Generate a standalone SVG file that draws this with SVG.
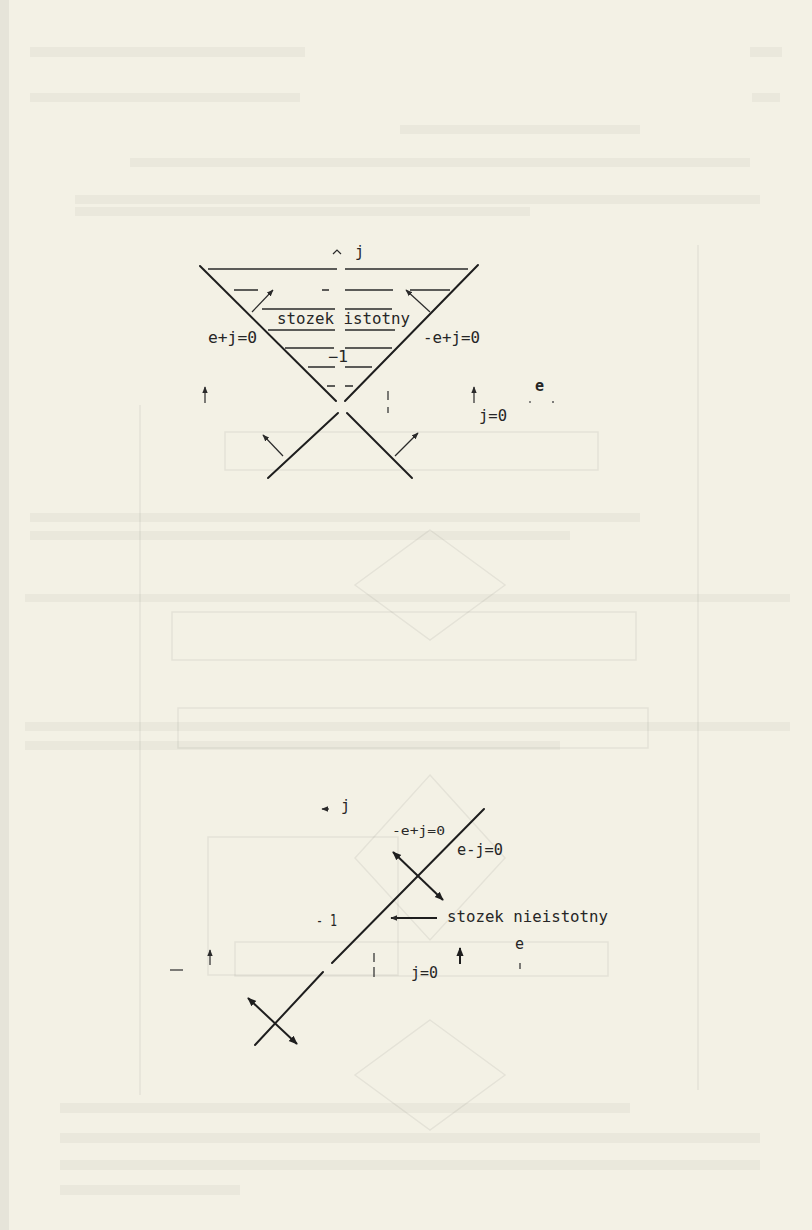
<svg xmlns="http://www.w3.org/2000/svg" width="812" height="1230" viewBox="0 0 812 1230">
<defs>
<style>
.bg{fill:#f3f1e5}
.ghost{fill:#000;opacity:0.035}
.gline{fill:none;stroke:#000;stroke-opacity:0.06;stroke-width:1.5}
.axis{fill:none;stroke:#1e1e1e;stroke-width:2;stroke-linecap:round}
.hatch{fill:none;stroke:#2a2a2a;stroke-width:1.3}
.thin{fill:none;stroke:#2a2a2a;stroke-width:1.2}
.bold{fill:none;stroke:#1e1e1e;stroke-width:2}
.t{font-family:"DejaVu Sans Mono","Liberation Mono",monospace;font-size:15px;fill:#262626}
.ts{font-family:"DejaVu Sans Mono","Liberation Mono",monospace;font-size:12px;fill:#2a2a2a}
</style>
<marker id="ah" viewBox="0 0 10 10" refX="9" refY="5" markerWidth="7" markerHeight="7" orient="auto-start-reverse" markerUnits="userSpaceOnUse">
<path d="M0,1 L10,5 L0,9 Z" fill="#2a2a2a"/>
</marker>
<marker id="ahb" viewBox="0 0 10 10" refX="9" refY="5" markerWidth="9" markerHeight="9" orient="auto-start-reverse" markerUnits="userSpaceOnUse">
<path d="M0,1 L10,5 L0,9 Z" fill="#1e1e1e"/>
</marker>
</defs>
<rect class="bg" x="0" y="0" width="812" height="1230"/>
<rect x="0" y="0" width="9" height="1230" fill="#000" opacity="0.05"/>

<g id="bleed-through">
<rect class="ghost" x="30" y="47" width="275" height="10"/>
<rect class="ghost" x="750" y="47" width="32" height="10"/>
<rect class="ghost" x="30" y="93" width="270" height="9"/>
<rect class="ghost" x="752" y="93" width="28" height="9"/>
<rect class="ghost" x="400" y="125" width="240" height="9"/>
<rect class="ghost" x="130" y="158" width="620" height="9"/>
<rect class="ghost" x="75" y="195" width="685" height="9"/>
<rect class="ghost" x="75" y="207" width="455" height="9"/>
<rect class="ghost" x="30" y="513" width="610" height="9"/>
<rect class="ghost" x="30" y="531" width="540" height="9"/>
<rect class="ghost" x="25" y="594" width="765" height="8"/>
<rect class="ghost" x="25" y="722" width="765" height="9"/>
<rect class="ghost" x="25" y="741" width="535" height="9"/>
<rect class="ghost" x="60" y="1103" width="570" height="10"/>
<rect class="ghost" x="60" y="1133" width="700" height="10"/>
<rect class="ghost" x="60" y="1160" width="700" height="10"/>
<rect class="ghost" x="60" y="1185" width="180" height="10"/>
<path class="gline" d="M140,405 V1095 M698,245 V1090"/>
<rect class="gline" x="225" y="432" width="373" height="38"/>
<path class="gline" d="M430,530 L505,585 L430,640 L355,585 Z"/>
<rect class="gline" x="172" y="612" width="464" height="48"/>
<rect class="gline" x="178" y="708" width="470" height="40"/>
<path class="gline" d="M430,775 L505,858 L430,940 L355,858 Z"/>
<rect class="gline" x="208" y="837" width="190" height="138"/>
<rect class="gline" x="235" y="942" width="373" height="34"/>
<path class="gline" d="M430,1020 L505,1075 L430,1130 L355,1075 Z"/>
</g>

<g id="fig1-cone">
<path class="axis" d="M200,266 L336,401"/>
<path class="axis" d="M478,265 L345,401"/>
<path class="axis" d="M338,413 L268,478"/>
<path class="axis" d="M347,413 L412,478"/>
</g>

<g id="fig1-hatching">
<path class="hatch" d="M208,269 H337 M345,269 H468"/>
<path class="hatch" d="M234,290 H258 M322,290 H329 M345,290 H393 M410,290 H450"/>
<path class="hatch" d="M262,309 H335 M345,309 H392"/>
<path class="hatch" d="M268,330 H335 M345,330 H395"/>
<path class="hatch" d="M285,348 H334 M345,348 H392"/>
<path class="hatch" d="M308,367 H335 M345,367 H372"/>
<path class="hatch" d="M327,386 H335 M345,386 H353"/>
</g>

<g id="fig1-labels">
<text class="t" x="277" y="324" textLength="133" lengthAdjust="spacingAndGlyphs">stozek istotny</text>
<text class="t" x="208" y="343" textLength="49" lengthAdjust="spacingAndGlyphs">e+j=0</text>
<text class="t" x="423" y="343" textLength="57" lengthAdjust="spacingAndGlyphs">-e+j=0</text>
<text class="t" x="328" y="362" textLength="20" lengthAdjust="spacingAndGlyphs">−1</text>
<path class="thin" d="M333,254 L337,250 L341,254"/>
<text class="t" x="355" y="257">j</text>
<text class="t" x="479" y="421" textLength="28" lengthAdjust="spacingAndGlyphs">j=0</text>
<text class="t" x="535" y="391" font-weight="bold">e</text>
<circle cx="530" cy="402" r="0.9" fill="#555"/>
<circle cx="553" cy="402" r="1" fill="#555"/>
<path class="thin" d="M388,391 V400 M388,407 V413"/>
</g>

<g id="fig1-arrows">
<path class="thin" d="M205,403 V387" marker-end="url(#ah)"/>
<path class="thin" d="M474,403 V387" marker-end="url(#ah)"/>
<path class="thin" d="M252,312 L273,290" marker-end="url(#ah)"/>
<path class="thin" d="M430,312 L406,290" marker-end="url(#ah)"/>
<path class="thin" d="M283,456 L263,435" marker-end="url(#ah)"/>
<path class="thin" d="M395,456 L418,433" marker-end="url(#ah)"/>
</g>

<g id="fig2-line">
<path class="axis" d="M484,809 L332,963 M323,972 L255,1045"/>
</g>

<g id="fig2-arrows">
<path class="bold" d="M393,852 L443,900" marker-start="url(#ahb)" marker-end="url(#ahb)"/>
<path class="bold" d="M248,998 L297,1044" marker-start="url(#ahb)" marker-end="url(#ahb)"/>
<path class="bold" d="M437,918 H391" marker-end="url(#ah)"/>
<path class="thin" d="M210,965 V950" marker-end="url(#ah)"/>
<path class="bold" d="M460,964 V948" marker-end="url(#ahb)"/>
<path class="thin" d="M329,809 H322" marker-end="url(#ah)"/>
</g>

<g id="fig2-labels">
<text class="ts" x="392" y="835" textLength="53" lengthAdjust="spacingAndGlyphs">-e+j=0</text>
<text class="t" x="457" y="855" textLength="46" lengthAdjust="spacingAndGlyphs">e-j=0</text>
<text class="t" x="447" y="922" textLength="161" lengthAdjust="spacingAndGlyphs">stozek nieistotny</text>
<text class="t" x="316" y="926" textLength="21" lengthAdjust="spacingAndGlyphs">- 1</text>
<text class="t" x="341" y="811">j</text>
<text class="t" x="411" y="978" textLength="27" lengthAdjust="spacingAndGlyphs">j=0</text>
<text class="t" x="515" y="949">e</text>
<path class="thin" d="M520,963 V969"/>
<path class="thin" d="M170,970 H183"/>
<path class="thin" d="M374,953 V962 M374,967 V977"/>
</g>
</svg>
